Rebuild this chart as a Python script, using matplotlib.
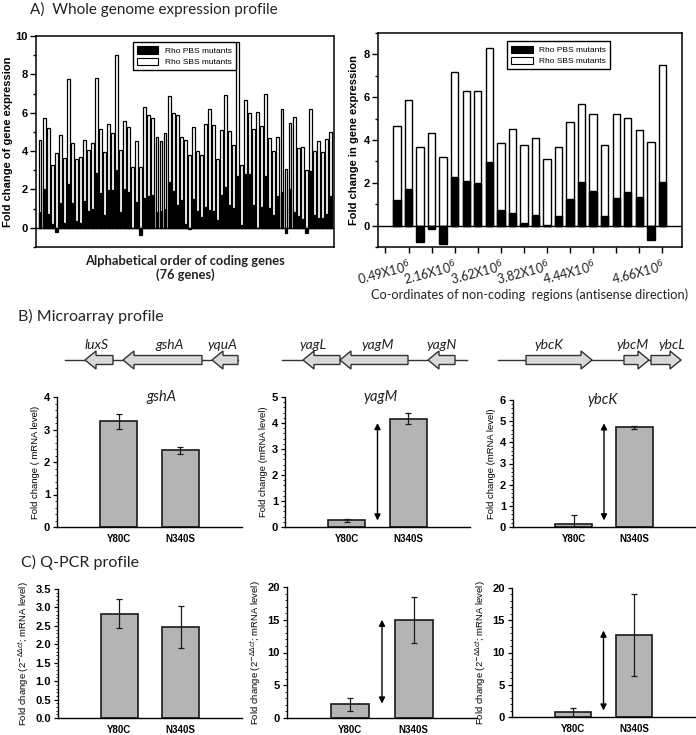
import matplotlib
matplotlib.use('Agg')
import matplotlib.pyplot as plt
from matplotlib.patches import Patch, FancyArrow
from matplotlib.ticker import MultipleLocator, FixedLocator
import matplotlib.transforms as mtransforms

W, H = 696, 735

# ---------------- Panel A data ----------------
coding_sbs = [4.6, 5.75, 5.2, 3.3, 3.9, 4.85, 3.65, 7.75, 4.4, 3.6, 3.7, 4.6, 4.05, 4.4, 7.8,
              5.15, 3.95, 5.4, 4.95, 9.0, 4.05, 5.55, 5.25, 3.15, 4.5, 3.15, 6.3, 5.9, 5.75, 4.75,
              4.5, 4.95, 6.85, 6.0, 5.9, 4.75, 4.6, 3.8, 5.25, 4.0, 3.8, 5.4, 6.2, 5.35, 3.6,
              5.1, 6.9, 5.05, 4.3, 9.7, 3.3, 6.65, 6.0, 5.15, 6.05, 5.3, 7.0, 4.7, 4.0, 4.75,
              6.2, 3.05, 5.45, 5.8, 4.15, 4.2, 3.0, 6.2, 4.0, 4.5, 3.95, 4.65, 5.0]
coding_pbs = [0.85, 2.0, 0.7, 0.2, -0.2, 1.3, 0.25, 2.3, 1.3, 0.35, 0.25, 1.4, 0.9, 1.0, 2.85,
              1.8, 0.65, 1.95, 1.95, 3.0, 0.8, 2.0, 1.85, 0.0, 1.35, -0.4, 1.55, 1.65, 1.7, 0.85,
              0.9, 1.0, 2.4, 1.9, 1.2, 1.45, 0.2, -0.05, 1.5, 0.9, 0.55, 1.1, 0.95, 0.9, 0.4,
              1.7, 2.15, 1.2, 1.05, 2.7, 0.15, 2.8, 2.8, 1.2, 0.0, 1.1, 2.7, 1.05, 0.65, 1.65,
              1.85, -0.25, 2.0, 0.8, 0.6, 0.45, -0.25, 2.95, 0.65, 0.5, 0.5, 0.7, 1.65]

noncoding_sbs = [4.65, 5.85, 3.65, 4.35, 3.2, 7.2, 6.3, 6.3, 8.3, 3.85, 4.5, 3.75, 4.1, 3.1,
                 3.65, 4.85, 5.7, 5.2, 3.75, 5.2, 5.05, 4.45, 3.9, 7.5]
noncoding_pbs = [1.2, 1.7, -0.75, -0.15, -0.85, 2.25, 2.1, 2.0, 2.95, 0.75, 0.6, 0.1, 0.5, 0.05,
                 0.45, 1.25, 2.05, 1.6, 0.45, 1.3, 1.55, 1.35, -0.65, 2.05]
noncoding_tick_labels = ['', '0.49X10$^6$', '', '2.16X10$^6$', '', '3.62X10$^6$', '',
                         '3.82X10$^6$', '', '4.44X10$^6$', '', '', '4.66X10$^6$']
series_labels = ['Rho PBS mutants', 'Rho SBS mutants']

# ---------------- Panels B & C data ----------------
strains = ['Y80C', 'N340S']
micro_genes = ['gshA', 'yagM', 'ybcK']
micro_vals = [[3.25, 2.36], [0.26, 4.17], [0.15, 4.71]]
micro_errs = [[0.23, 0.10], [0.05, 0.22], [0.43, 0.07]]
micro_arrows = [None, (0.25, 4.0), (0.31, 4.9)]
qpcr_vals = [[2.83, 2.47], [2.1, 15.0], [0.77, 12.75]]
qpcr_errs = [[0.40, 0.57], [1.0, 3.5], [0.7, 6.35]]
qpcr_arrows = [None, (2.2, 15.0), (1.0, 13.4)]

# gene neighbourhood schematics (name, start px, end px, label x px; direction = start -> end)
gene_maps = [
    ([('luxS', 113, 85, 97), ('gshA', 202, 123, 170), ('yquA', 238, 212, 222)], (65, 238)),
    ([('yagL', 340, 303, 313), ('yagM', 408, 340, 378), ('yagN', 455, 428, 442)], (282, 467)),
    ([('ybcK', 526, 592, 549), ('ybcM', 624, 649, 633), ('ybcL', 651, 681, 672)], (498, 680)),
]

ARIAL = 'Liberation Sans'
CAL = 'Lato'
plt.rcParams['font.family'] = [ARIAL, 'DejaVu Sans']

fig = plt.figure(figsize=(W / 100, H / 100), dpi=100)


def add_ax(x0, y0, x1, y1):
    return fig.add_axes([x0 / W, 1 - y1 / H, (x1 - x0) / W, (y1 - y0) / H])


# overlay axes for schematic drawing
axg = fig.add_axes([0, 0, 1, 1])
axg.set_xlim(0, W)
axg.set_ylim(H, 0)
axg.axis('off')
for genes, (l0, l1) in gene_maps:
    axg.plot([l0, l1], [360, 360], color='#333333', lw=1.0, zorder=1)
    for name, s, e, lx in genes:
        axg.add_patch(FancyArrow(s, 360, e - s, 0, width=9, head_width=18, head_length=11,
                                 length_includes_head=True, fc='#d9d9d9', ec='#333333',
                                 lw=1.0, zorder=2))
        axg.text(lx, 345, name, ha='center', va='center', fontsize=10,
                 style='italic', family=CAL, color='#222222')

# section titles
fig.text(30 / W, 1 - 9 / H, 'A)  Whole genome expression profile', fontsize=11, family=CAL,
         va='center', ha='left', color='#222222')
fig.text(18 / W, 1 - 316 / H, 'B) Microarray profile', fontsize=11.5, family=CAL,
         va='center', ha='left', color='#222222')
fig.text(21 / W, 1 - 562 / H, 'C) Q-PCR profile', fontsize=11.5, family=CAL,
         va='center', ha='left', color='#222222')

legend_handles = [Patch(fc='black', ec='black', lw=0.8), Patch(fc='white', ec='black', lw=0.8)]

# ---------------- A1 ----------------
a1 = add_ax(36, 36, 334, 247)
x1 = list(range(1, len(coding_sbs) + 1))
a1.bar(x1, coding_sbs, width=0.72, color='white', edgecolor='black', lw=0.9, zorder=2)
a1.bar(x1, coding_pbs, width=0.72, color='black', edgecolor='black', lw=0.9, zorder=3)
a1.axhline(0, color='black', lw=1.0, zorder=4)
a1.set_xlim(0, len(coding_sbs) + 0.9)
a1.set_ylim(-1, 10)
a1.set_xticks([])
a1.yaxis.set_major_locator(MultipleLocator(2))
a1.yaxis.set_minor_locator(MultipleLocator(1))
a1.tick_params(axis='y', which='major', length=4, width=1, labelsize=8, direction='out', pad=2)
a1.tick_params(axis='y', which='minor', length=2.5, width=1, direction='out')
for lab in a1.get_yticklabels():
    lab.set_fontweight('bold')
a1.set_ylabel('Fold change of gene expression', fontsize=8, fontweight='bold', labelpad=2)
a1.set_xlabel('Alphabetical order of coding genes\n(76 genes)', fontsize=9.3, family=CAL,
              fontweight='bold', labelpad=6, color='#222222', linespacing=1.1)
for s in a1.spines.values():
    s.set_linewidth(1.1)
a1.legend(legend_handles, series_labels, loc='upper left', bbox_to_anchor=(0.31, 0.99),
          fontsize=6, frameon=True, fancybox=False, edgecolor='black', handlelength=2.6,
          handleheight=1.0, borderpad=0.5, labelspacing=0.3, framealpha=1).get_frame().set_linewidth(1.0)

# ---------------- A2 ----------------
a2 = add_ax(378, 33, 682, 247)
x2 = list(range(1, len(noncoding_sbs) + 1))
a2.bar(x2, noncoding_sbs, width=0.64, color='white', edgecolor='black', lw=1.0, zorder=2)
a2.bar(x2, noncoding_pbs, width=0.64, color='black', edgecolor='black', lw=1.0, zorder=3)
a2.axhline(0, color='black', lw=1.0, zorder=4)
a2.set_xlim(-0.65, len(noncoding_sbs) + 1.7)
a2.set_ylim(-1, 9)
a2.xaxis.set_major_locator(FixedLocator(list(range(0, 26, 2))))
a2.set_xticklabels(noncoding_tick_labels, rotation=15, ha='right', fontsize=9, family=CAL,
                   color='#222222', rotation_mode='anchor')
offset = mtransforms.ScaledTranslation(10 / 100, 0, fig.dpi_scale_trans)
for lab in a2.get_xticklabels():
    lab.set_transform(lab.get_transform() + offset)
a2.yaxis.set_major_locator(MultipleLocator(2))
a2.yaxis.set_minor_locator(MultipleLocator(1))
a2.tick_params(axis='both', which='major', length=4, width=1, direction='out')
a2.tick_params(axis='y', which='minor', length=2.5, width=1, direction='out')
a2.tick_params(axis='y', labelsize=8, pad=2)
for lab in a2.get_yticklabels():
    lab.set_fontweight('bold')
a2.set_ylabel('Fold change in gene expression', fontsize=8, fontweight='bold', labelpad=3)
a2.set_xlabel('Co-ordinates of non-coding  regions (antisense direction)', fontsize=9.2,
              family=CAL, labelpad=1, color='#222222')
for s in a2.spines.values():
    s.set_linewidth(1.1)
a2.legend(legend_handles, series_labels, loc='upper left', bbox_to_anchor=(0.41, 0.98),
          fontsize=6, frameon=True, fancybox=False, edgecolor='black', handlelength=2.6,
          handleheight=1.0, borderpad=0.5, labelspacing=0.3, framealpha=1).get_frame().set_linewidth(1.0)


# ---------------- B and C small panels ----------------
def small_panel(box, vals, errs, ylim, major, minor, ylabel, title=None, title_x=1.5,
                arrow=None, fmt=None):
    ax = add_ax(*box)
    xs = [1, 2]
    ax.bar(xs, vals, width=0.6, color='#b4b4b4', edgecolor='#1a1a1a', lw=1.2, zorder=2)
    ax.errorbar(xs, vals, yerr=errs, fmt='none', ecolor='#1a1a1a', elinewidth=0.9,
                capsize=2.5, capthick=0.9, zorder=3)
    ax.set_xlim(0, 3)
    ax.set_ylim(*ylim)
    ax.set_xticks(xs)
    ax.set_xticklabels(strains, fontsize=7, fontweight='bold')
    ax.tick_params(axis='x', length=0, pad=5)
    ax.yaxis.set_major_locator(MultipleLocator(major))
    ax.yaxis.set_minor_locator(MultipleLocator(minor))
    ax.tick_params(axis='y', which='major', length=3, width=0.9, labelsize=8, pad=2)
    ax.tick_params(axis='y', which='minor', length=1.5, width=0.6)
    if fmt:
        ax.yaxis.set_major_formatter(plt.FormatStrFormatter(fmt))
    for lab in ax.get_yticklabels():
        lab.set_fontweight('bold')
    for side in ('top', 'right'):
        ax.spines[side].set_visible(False)
    for side in ('left', 'bottom'):
        ax.spines[side].set_linewidth(1.0)
    ax.set_ylabel(ylabel, fontsize=6.8, labelpad=3)
    ax.patch.set_alpha(0)
    if title:
        ax.text(title_x, ylim[1], title, ha='center', va='center', fontsize=10.5,
                style='italic', family=CAL, color='#222222', clip_on=False)
    if arrow:
        ax.annotate('', xy=(1.5, arrow[1]), xytext=(1.5, arrow[0]),
                    arrowprops=dict(arrowstyle='<|-|>', color='black', lw=1.0,
                                    mutation_scale=9, shrinkA=0, shrinkB=0))
    return ax


micro_boxes = [(57, 397, 242, 527), (285, 397, 470, 527), (513, 400, 695, 527)]
micro_ylims = [(0, 4), (0, 5), (0, 6)]
micro_ylabels = ['Fold change ( mRNA level)', 'Fold change (mRNA level)',
                 'Fold change (mRNA level)']
title_xs = [1.7, 1.55, 1.47]
for i in range(3):
    small_panel(micro_boxes[i], micro_vals[i], micro_errs[i], micro_ylims[i], 1, 0.2,
                micro_ylabels[i], title=micro_genes[i], title_x=title_xs[i],
                arrow=micro_arrows[i])

qpcr_boxes = [(58, 589, 242, 718), (287, 587, 477, 718), (512, 588, 695, 717)]
qpcr_ylims = [(0, 3.5), (0, 20), (0, 20)]
qpcr_major = [0.5, 5, 5]
qpcr_minor = [0.1, 1, 1]
qpcr_fmt = ['%.1f', None, None]
qlabel = 'Fold change (2$^{-\\Delta\\Delta ct}$; mRNA level)'
for i in range(3):
    small_panel(qpcr_boxes[i], qpcr_vals[i], qpcr_errs[i], qpcr_ylims[i], qpcr_major[i],
                qpcr_minor[i], qlabel, arrow=qpcr_arrows[i], fmt=qpcr_fmt[i])

fig.savefig('out.png', dpi=100)
